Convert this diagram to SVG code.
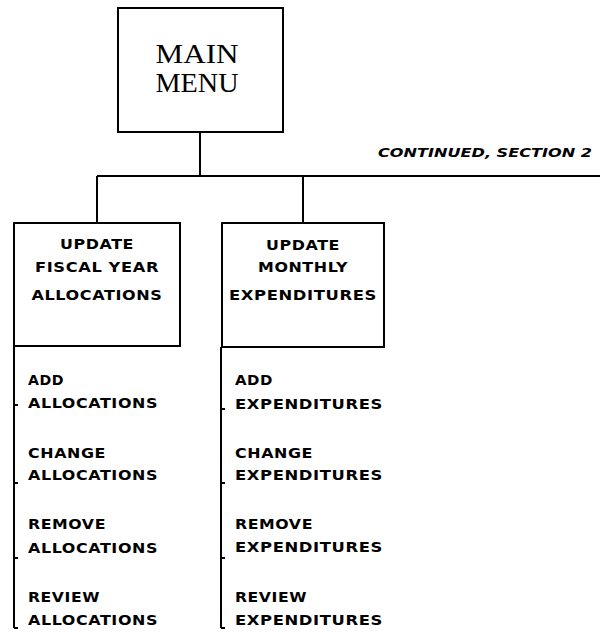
<svg xmlns="http://www.w3.org/2000/svg" width="600" height="633" viewBox="0 0 600 633">
<style>
.box{fill:#fff;stroke:#000;stroke-width:2}
.ln{fill:none;stroke:#000;stroke-width:2}
.serif{font-family:"Liberation Serif","Times New Roman",serif;font-size:28px;fill:#000}
.t{font-family:"DejaVu Sans","Liberation Sans",Arial,sans-serif;font-size:13.5px;font-weight:bold;fill:#000;letter-spacing:0.5px}
.c{text-anchor:middle}
.it{font-family:"DejaVu Sans","Liberation Sans",Arial,sans-serif;font-size:12.5px;font-weight:bold;font-style:italic;fill:#000}
</style>
<rect width="600" height="633" fill="#fff"/>
<g id="connectors">
<path class="ln" d="M200 132 V176 M97 176 H600 M97 176 V223 M303 176 V223"/>
<path class="ln" d="M14 346 V628 M14 405 h4 M14 483 h4 M14 558 h4 M14 628 h4"/>
<path class="ln" d="M221 347 V628 M221 409 h4 M221 483 h4 M221 558 h4 M221 628 h4"/>
</g>
<g id="main">
<rect class="box" x="118" y="8" width="165" height="124"/>
<text class="serif c" x="197" y="63" textLength="83" lengthAdjust="spacingAndGlyphs">MAIN</text>
<text class="serif c" x="197" y="92" textLength="83" lengthAdjust="spacingAndGlyphs">MENU</text>
</g>
<g id="continued">
<text class="it" x="378" y="157" textLength="214" lengthAdjust="spacingAndGlyphs">CONTINUED, SECTION 2</text>
</g>
<g id="fiscal">
<rect class="box" x="14" y="223" width="166" height="123"/>
<text class="t c" x="97" y="249" textLength="74" lengthAdjust="spacingAndGlyphs">UPDATE</text>
<text class="t c" x="97" y="272" textLength="124" lengthAdjust="spacingAndGlyphs">FISCAL YEAR</text>
<text class="t c" x="97" y="300" textLength="131" lengthAdjust="spacingAndGlyphs">ALLOCATIONS</text>
</g>
<g id="monthly">
<rect class="box" x="222" y="223" width="162" height="124"/>
<text class="t c" x="303" y="250" textLength="74" lengthAdjust="spacingAndGlyphs">UPDATE</text>
<text class="t c" x="303" y="272" textLength="90" lengthAdjust="spacingAndGlyphs">MONTHLY</text>
<text class="t c" x="303" y="300" textLength="148" lengthAdjust="spacingAndGlyphs">EXPENDITURES</text>
</g>
<g id="alloc-items">
<text class="t" x="28" y="385" textLength="36" lengthAdjust="spacingAndGlyphs">ADD</text>
<text class="t" x="28" y="408" textLength="130" lengthAdjust="spacingAndGlyphs">ALLOCATIONS</text>
<text class="t" x="28" y="458" textLength="78" lengthAdjust="spacingAndGlyphs">CHANGE</text>
<text class="t" x="28" y="480" textLength="130" lengthAdjust="spacingAndGlyphs">ALLOCATIONS</text>
<text class="t" x="28" y="529" textLength="78" lengthAdjust="spacingAndGlyphs">REMOVE</text>
<text class="t" x="28" y="553" textLength="130" lengthAdjust="spacingAndGlyphs">ALLOCATIONS</text>
<text class="t" x="28" y="602" textLength="72" lengthAdjust="spacingAndGlyphs">REVIEW</text>
<text class="t" x="28" y="625" textLength="130" lengthAdjust="spacingAndGlyphs">ALLOCATIONS</text>
</g>
<g id="expend-items">
<text class="t" x="235" y="385" textLength="38" lengthAdjust="spacingAndGlyphs">ADD</text>
<text class="t" x="235" y="409" textLength="148" lengthAdjust="spacingAndGlyphs">EXPENDITURES</text>
<text class="t" x="235" y="458" textLength="78" lengthAdjust="spacingAndGlyphs">CHANGE</text>
<text class="t" x="235" y="480" textLength="148" lengthAdjust="spacingAndGlyphs">EXPENDITURES</text>
<text class="t" x="235" y="529" textLength="78" lengthAdjust="spacingAndGlyphs">REMOVE</text>
<text class="t" x="235" y="552" textLength="148" lengthAdjust="spacingAndGlyphs">EXPENDITURES</text>
<text class="t" x="235" y="602" textLength="72" lengthAdjust="spacingAndGlyphs">REVIEW</text>
<text class="t" x="235" y="625" textLength="148" lengthAdjust="spacingAndGlyphs">EXPENDITURES</text>
</g>
</svg>
